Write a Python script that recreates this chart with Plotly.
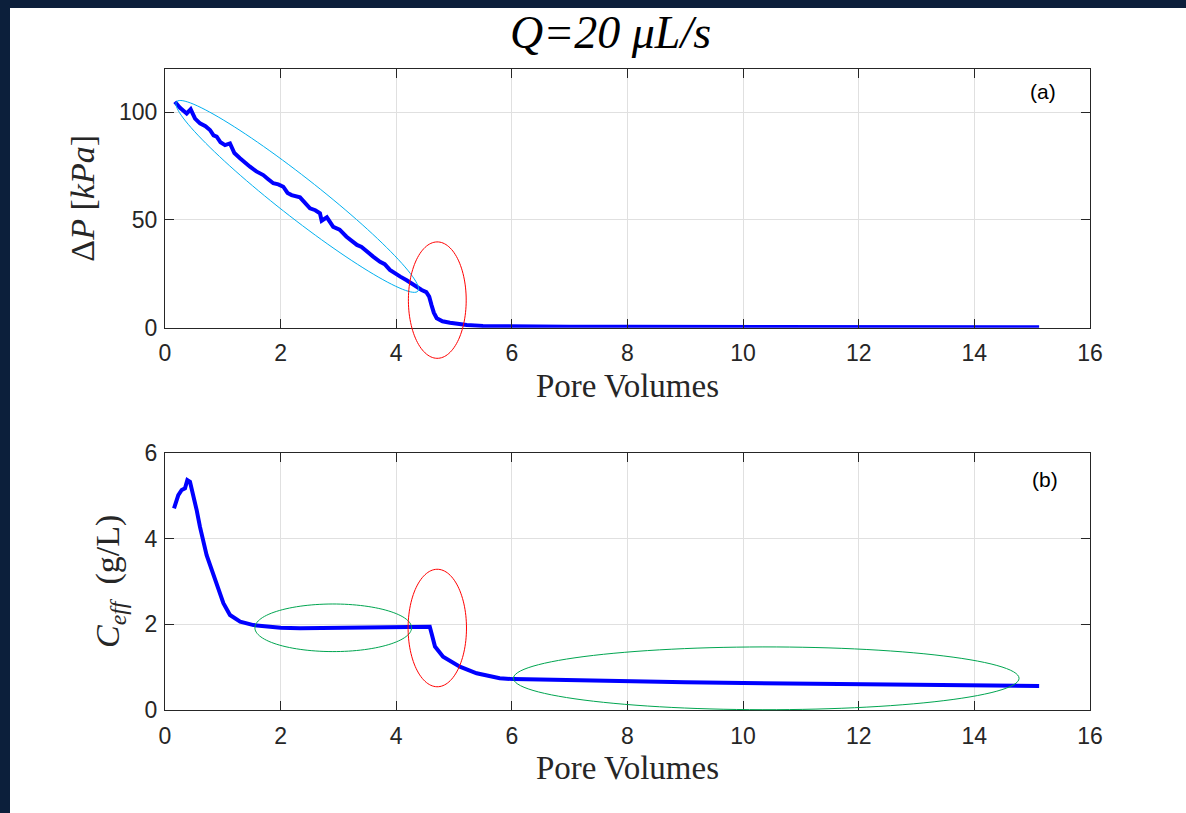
import numpy as np
import plotly.graph_objects as go

# ---------------- data ----------------
pv_dp = [0.17, 0.26, 0.375, 0.444, 0.52, 0.605, 0.70, 0.778, 0.84, 0.894, 0.96, 1.038, 1.124, 1.20, 1.297,
         1.38, 1.47, 1.58, 1.70, 1.78, 1.873, 1.96, 2.046, 2.12, 2.19, 2.335, 2.42, 2.508, 2.60, 2.68, 2.71,
         2.80, 2.91, 3.02, 3.14, 3.23, 3.32, 3.40, 3.49, 3.60, 3.72, 3.80, 3.89, 3.98, 4.07, 4.18, 4.30,
         4.44, 4.52, 4.57, 4.61, 4.65, 4.70, 4.80, 4.93, 5.22, 5.5, 6.0, 7.0, 8.0, 9.0, 10.0, 11.0, 12.0,
         13.0, 14.0, 15.12]
dp_kpa = [104.8, 102.0, 99.4, 101.3, 97.0, 94.8, 93.5, 91.7, 89.2, 88.6, 86.0, 84.7, 85.5, 81.0, 78.6,
          77.0, 74.7, 72.5, 70.8, 69.0, 67.0, 66.5, 65.4, 62.5, 61.5, 60.5, 58.0, 55.4, 54.5, 53.1, 49.6,
          51.2, 46.8, 45.5, 42.2, 40.5, 38.4, 37.5, 35.3, 33.0, 30.6, 29.5, 26.8, 25.5, 23.7, 22.0, 19.8,
          17.5, 16.5, 14.4, 10.5, 7.0, 4.4, 3.0, 2.3, 1.25, 0.8, 0.6, 0.5, 0.45, 0.4, 0.35, 0.3, 0.28,
          0.25, 0.22, 0.2]

pv_c = [0.156, 0.23, 0.289, 0.346, 0.386, 0.432, 0.548, 0.605, 0.72, 0.894, 1.01, 1.124, 1.30, 1.53,
        1.76, 2.0, 2.335, 2.7, 3.2, 3.6, 4.07, 4.3, 4.58, 4.61, 4.67, 4.81, 5.10, 5.39, 5.79, 6.03,
        7.0, 8.04, 9.0, 10.0, 11.0, 12.71, 14.0, 15.12]
c_eff = [4.70, 5.01, 5.13, 5.17, 5.36, 5.32, 4.66, 4.27, 3.61, 2.95, 2.49, 2.215, 2.06, 1.98,
         1.94, 1.92, 1.905, 1.91, 1.905, 1.92, 1.94, 1.93, 1.94, 1.79, 1.48, 1.24, 1.01, 0.856, 0.74, 0.72,
         0.69, 0.66, 0.645, 0.63, 0.62, 0.606, 0.585, 0.56]

x_ticks = [0, 2, 4, 6, 8, 10, 12, 14, 16]
dp_ticks = [0, 50, 100]
c_ticks = [0, 2, 4, 6]

# ---------------- layout geometry ----------------
W, H = 1186, 813
ML, MR, MT, MB = 165, 96, 69, 103
PW, PH = W - ML - MR, H - MT - MB
TOP_DOM = [0.5964, 1.0]
BOT_DOM = [0.0, 0.4014]
XR = [0, 16]
YR_TOP = [0, 120]
YR_BOT = [0, 6]

def to_px(x, y, dom, yr):
    px = (x - XR[0]) / (XR[1] - XR[0]) * PW
    py = (dom[0] + (y - yr[0]) / (yr[1] - yr[0]) * (dom[1] - dom[0])) * PH
    return px, py

def ellipse_path(cx, cy, a_px, b_px, ang=0.0, n=120):
    t = np.linspace(0, 2 * np.pi, n)
    ex = a_px * np.cos(t)
    ey = b_px * np.sin(t)
    rx = cx + ex * np.cos(ang) - ey * np.sin(ang)
    ry = cy + ex * np.sin(ang) + ey * np.cos(ang)
    pts = [f"{x / PW:.5f},{y / PH:.5f}" for x, y in zip(rx, ry)]
    return "M" + "L".join(pts) + "Z"

def axis_ellipse(cx, cy, sx, sy, dom, yr):
    pcx, pcy = to_px(cx, cy, dom, yr)
    p2x, p2y = to_px(cx + sx, cy + sy, dom, yr)
    return ellipse_path(pcx, pcy, p2x - pcx, p2y - pcy)

def tip_ellipse(x1, y1, x2, y2, b_px, dom, yr):
    ax_, ay_ = to_px(x1, y1, dom, yr)
    bx_, by_ = to_px(x2, y2, dom, yr)
    cx, cy = (ax_ + bx_) / 2, (ay_ + by_) / 2
    a = np.hypot(bx_ - ax_, by_ - ay_) / 2
    ang = np.arctan2(by_ - ay_, bx_ - ax_)
    return ellipse_path(cx, cy, a, b_px, ang)

BLUE = "#0000FF"
fig = go.Figure()
fig.add_trace(go.Scatter(x=pv_dp, y=dp_kpa, mode="lines", line=dict(color=BLUE, width=4),
                         xaxis="x", yaxis="y", showlegend=False))
fig.add_trace(go.Scatter(x=pv_c, y=c_eff, mode="lines", line=dict(color=BLUE, width=4),
                         xaxis="x2", yaxis="y2", showlegend=False))

AX = "#262626"
GRID = "#e0e0e0"
tickfont = dict(family="Liberation Sans, Arial", size=23, color=AX)
serif = "Liberation Serif, Times New Roman"

common_x = dict(range=XR, tickvals=x_ticks, showgrid=True, gridcolor=GRID, gridwidth=1,
                showline=True, linecolor=AX, linewidth=1, mirror="ticks", ticks="inside",
                ticklen=9, tickcolor=AX, tickfont=tickfont, zeroline=False, ticklabelstandoff=5,
                title=dict(text="Pore Volumes", font=dict(family=serif, size=33, color=AX), standoff=8))
common_y = dict(showgrid=True, gridcolor=GRID, gridwidth=1, showline=True, linecolor=AX,
                linewidth=1, mirror="ticks", ticks="inside", ticklen=9, tickcolor=AX,
                tickfont=tickfont, zeroline=False, ticklabelstandoff=2)

shapes = [
    # navy frame strips
    dict(type="rect", xref="paper", yref="paper", x0=-ML / PW, x1=(W - ML) / PW,
         y0=(H - MB) / PH - 8 / PH, y1=(H - MB) / PH + 2 / PH, fillcolor="#0c1f3b", line=dict(width=0),
         layer="above"),
    dict(type="rect", xref="paper", yref="paper", x0=-ML / PW - 2 / PW, x1=-ML / PW + 10 / PW,
         y0=-MB / PH - 2 / PH, y1=(H - MB) / PH + 2 / PH, fillcolor="#0c1f3b", line=dict(width=0),
         layer="above"),
    dict(type="path", xref="paper", yref="paper",
         path=tip_ellipse(0.20, 104.8, 4.376, 17.0, 20, TOP_DOM, YR_TOP),
         line=dict(color="#00B0F0", width=1)),
    dict(type="path", xref="paper", yref="paper",
         path=axis_ellipse(4.71, 12.8, 0.50, 27, TOP_DOM, YR_TOP),
         line=dict(color="#FF0000", width=1)),
    dict(type="path", xref="paper", yref="paper",
         path=axis_ellipse(2.91, 1.917, 1.355, 0.555, BOT_DOM, YR_BOT),
         line=dict(color="#00A550", width=1)),
    dict(type="path", xref="paper", yref="paper",
         path=axis_ellipse(4.71, 1.912, 0.505, 1.37, BOT_DOM, YR_BOT),
         line=dict(color="#FF0000", width=1)),
    dict(type="path", xref="paper", yref="paper",
         path=axis_ellipse(10.40, 0.739, 4.373, 0.732, BOT_DOM, YR_BOT),
         line=dict(color="#00A550", width=1)),
]

fig.update_layout(
    width=W, height=H,
    margin=dict(l=ML, r=MR, t=MT, b=MB),
    paper_bgcolor="white", plot_bgcolor="white",
    xaxis=dict(anchor="y", domain=[0, 1], **common_x),
    yaxis=dict(anchor="x", domain=TOP_DOM, range=YR_TOP, tickvals=dp_ticks,
               title=dict(text="Δ<i>P</i> [<i>kPa</i>]", font=dict(family=serif, size=34, color=AX),
                          standoff=14), **common_y),
    xaxis2=dict(anchor="y2", domain=[0, 1], **common_x),
    yaxis2=dict(anchor="x2", domain=BOT_DOM, range=YR_BOT, tickvals=c_ticks,
                title=dict(text="<i>C<sub>eff</sub></i>  (g/L)", font=dict(family=serif, size=34, color=AX),
                           standoff=14), **common_y),
    shapes=shapes,
    annotations=[
        dict(text="<i>Q=20 μL/s</i>", xref="paper", yref="paper", x=(610 - ML) / PW,
             y=(H - MB - 33) / PH, xanchor="center", yanchor="middle", showarrow=False,
             font=dict(family=serif, size=46, color="black")),
        dict(text="(a)", xref="paper", yref="paper", x=(1043 - ML) / PW, y=(H - MB - 92) / PH,
             xanchor="center", yanchor="middle", showarrow=False,
             font=dict(family="Liberation Sans, Arial", size=21, color="black")),
        dict(text="(b)", xref="paper", yref="paper", x=(1045 - ML) / PW, y=(H - MB - 479) / PH,
             xanchor="center", yanchor="middle", showarrow=False,
             font=dict(family="Liberation Sans, Arial", size=21, color="black")),
    ],
)

fig.write_html("out.html")
